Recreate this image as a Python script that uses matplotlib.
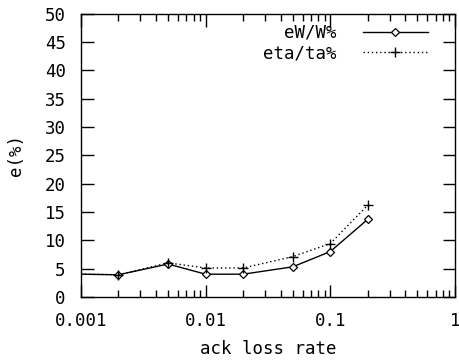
import matplotlib
matplotlib.use("Agg")
import matplotlib.pyplot as plt
from matplotlib.ticker import LogLocator, FixedLocator, NullFormatter

plt.rcParams['font.family'] = 'DejaVu Sans Mono'
plt.rcParams['font.size'] = 12.5

# data
loss_rate = [0.001, 0.002, 0.005, 0.01, 0.02, 0.05, 0.1, 0.2]
ew_pct = [4.0, 3.9, 5.8, 4.0, 4.0, 5.3, 8.0, 13.7]
eta_pct = [4.0, 3.9, 6.0, 5.1, 5.1, 7.1, 9.4, 16.2]

x_ticks = [0.001, 0.01, 0.1, 1]
x_labels = ["0.001", "0.01", "0.1", "1"]
y_ticks = list(range(0, 55, 5))

fig = plt.figure(figsize=(4.6, 3.62), dpi=100)
ax = fig.add_axes([0.176, 0.180, 0.813, 0.782])

# the point on the left border has no marker (clipped, gnuplot style)
marks = list(range(1, len(loss_rate)))
ax.plot(loss_rate, ew_pct, color='black', lw=1.0, marker='D', ms=4,
        mfc='white', mec='black', mew=0.9, markevery=marks, label='eW/W%')
ax.plot(loss_rate, eta_pct, color='black', lw=1.0, ls=(0, (1, 2)), marker='+',
        ms=7.5, mew=1.0, markevery=marks, label='eta/ta%')

ax.set_xscale('log')
ax.set_xlim(0.001, 1)
ax.set_ylim(0, 50)
ax.xaxis.set_major_locator(FixedLocator(x_ticks))
ax.set_xticklabels(x_labels)
ax.xaxis.set_minor_locator(LogLocator(base=10, subs=range(2, 10)))
ax.xaxis.set_minor_formatter(NullFormatter())
ax.set_yticks(y_ticks)

ax.tick_params(which='major', direction='in', length=9, width=1,
               top=True, right=True)
ax.tick_params(axis='y', which='major', pad=11)
ax.tick_params(axis='x', which='major', pad=11)
ax.tick_params(which='minor', direction='in', length=5, width=1,
               top=True, right=True)
for s in ax.spines.values():
    s.set_linewidth(1.0)

ax.set_xlabel('ack loss rate', labelpad=7)
ax.set_ylabel('e(%)', labelpad=14)

leg = ax.legend(loc='upper right', frameon=False, markerfirst=False,
                handlelength=3.75, handletextpad=1.5, labelspacing=0.15,
                borderaxespad=0, borderpad=0, bbox_to_anchor=(0.928, 0.965))

fig.savefig('out.png', dpi=100)
